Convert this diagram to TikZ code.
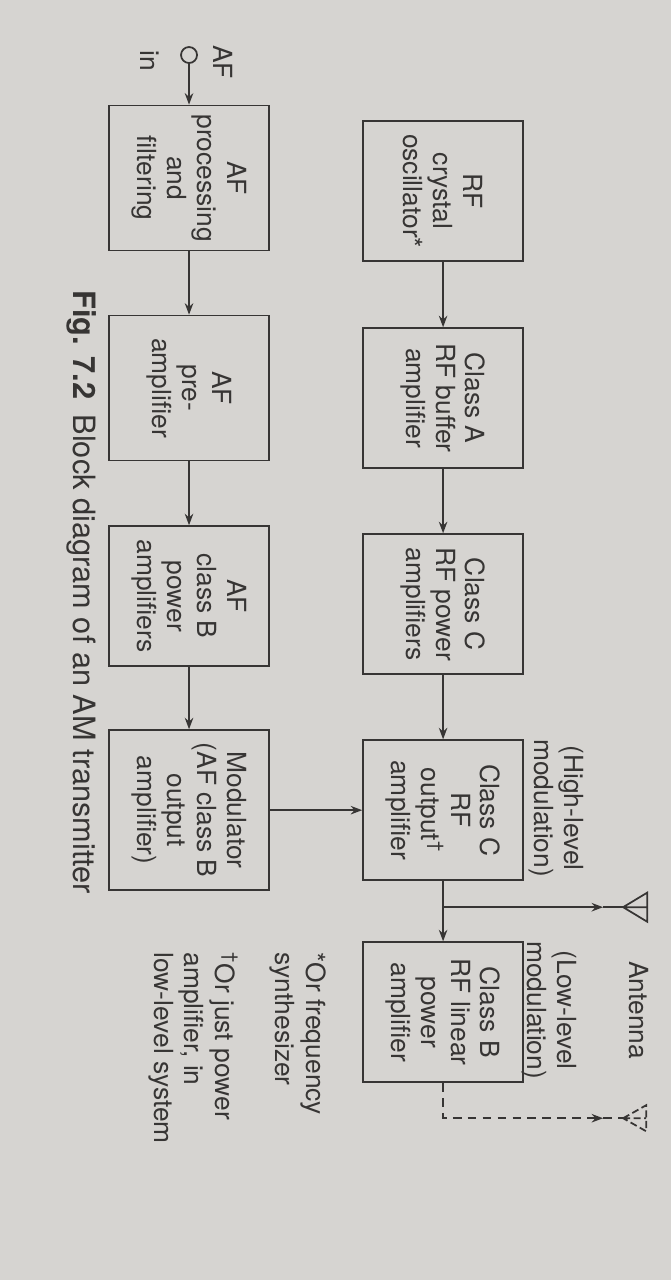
\documentclass[tikz,border=0pt]{standalone}
\usepackage{fontspec}
\setmainfont{TeX Gyre Heros}
\usetikzlibrary{arrows.meta, shapes, positioning}
\definecolor{paper}{RGB}{214,212,209}
\definecolor{ink}{RGB}{55,53,52}
\tikzset{
	block/.style={rectangle,
		draw=ink,
		line width=1pt,
		minimum width=28mm,
		minimum height=32mm,
		inner sep=1pt,
		align=center,
		font=\fontsize{15}{17}\selectfont,
		},
	port/.style={circle,
		draw=ink,
		line width=1pt,
		inner sep=0pt,
		minimum size=3.2mm,
		},
	remark/.style={align=center,
		font=\fontsize{15}{17}\selectfont,
		},
	footnote/.style={align=left,
		anchor=west,
		inner sep=0pt,
		font=\fontsize{15}{17.5}\selectfont,
		},
	caption/.style={anchor=west,
		inner sep=0pt,
		font=\fontsize{17.5}{20}\selectfont,
		},
	wire/.style={draw=ink, line width=1pt},
	signal/.style={wire, -{Stealth[length=2.3mm, width=1.7mm]}},
	lowlevel/.style={dash pattern=on 5pt off 3.5pt},
	every node/.style={text=ink},
}
\begin{document}
\begin{tikzpicture}
   \fill[paper] (0,0) rectangle (13.42,-25.6);

   \begin{scope}[x=0.02cm, y=0.02cm, rotate=-90, transform shape]
   % RF chain
   \node[block] (osc) at (191,443) {RF\\crystal\\oscillator*};
   \node[block] (buffer) at (398,443) {Class A\\RF buffer\\amplifier};
   \node[block] (rfpower) at (604,443) {Class C\\RF power\\amplifiers};
   \node[block] (rfout) at (810,443) {Class C\\RF\\output\textsuperscript{\textdagger}\\amplifier};
   \node[block] (rflinear) at (1012,443) {Class B\\RF linear\\power\\amplifier};

   % AF chain
   \node[port] (afin) at (55,189) {};
   \node[block, minimum width=29mm] (afproc) at (178,189) {AF\\processing\\and\\filtering};
   \node[block, minimum width=29mm] (preamp) at (388,189) {AF\\pre-\\amplifier};
   \node[block] (afpower) at (596,189) {AF\\class B\\power\\amplifiers};
   \node[block, minimum width=32mm] (modulator) at (810,189) {Modulator\\(AF class B\\output\\amplifier)};

   \draw[signal] (osc) -- (buffer);
   \draw[signal] (buffer) -- (rfpower);
   \draw[signal] (rfpower) -- (rfout);
   \draw[signal] (rfout) -- (rflinear);
   \draw[signal] (afin) -- (afproc);
   \draw[signal] (afproc) -- (preamp);
   \draw[signal] (preamp) -- (afpower);
   \draw[signal] (afpower) -- (modulator);
   \draw[signal] (modulator) -- (rfout);

   % high-level output to antenna
   \coordinate (split) at (907,443);
   \coordinate (feed) at (907,603);
   \coordinate (aerial) at (907,623);
   \draw[signal] (split) -- (feed);
   \draw[wire] (feed) -- (aerial);
   \draw[wire] (aerial) -- ++(-14.5,24) -- ++(29,0) -- cycle (aerial) -- ++(0,24);

   % low-level output to antenna
   \coordinate (bend) at (1118,443);
   \coordinate (feedlow) at (1118,603);
   \coordinate (aeriallow) at (1118,623);
   \draw[signal, lowlevel] (rflinear.east) -- (bend) -- (feedlow);
   \draw[wire, lowlevel] (feedlow) -- (aeriallow);
   \draw[wire, dash pattern=on 4pt off 2pt] (aeriallow) -- ++(-13,23) -- ++(26,0) -- cycle (aeriallow) -- ++(0,23);

   % labels
   \node[remark] (hilabel) at (808,556) {(High-level\\modulation)};
   \node[remark] (lolabel) at (1010,549) {(Low-level\\modulation)};
   \node[remark] (antlabel) at (1010,639) {Antenna};
   \node[remark] (aflabel) at (62,223) {AF};
   \node[remark] (inlabel) at (61,150) {in};

   \node[footnote] (note1) at (952,298) {*Or frequency\\synthesizer};
   \node[footnote] (note2) at (952,193) {\textsuperscript{\textdagger}Or just power\\amplifier, in\\low-level system};

   \node[caption] (fig) at (290,82) {\textbf{Fig. 7.2}\enspace Block diagram of an AM transmitter};
   \end{scope}
\end{tikzpicture}
\end{document}
